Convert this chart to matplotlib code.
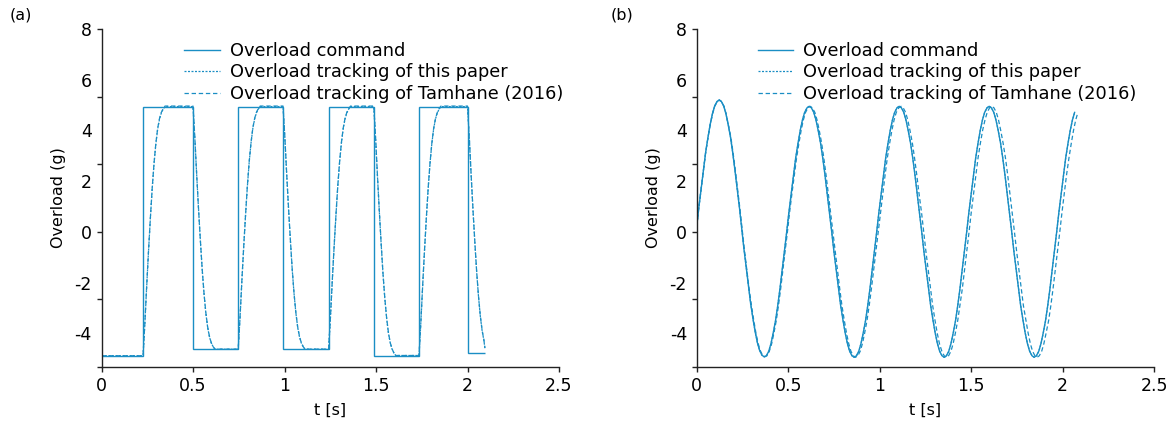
import matplotlib
matplotlib.use("Agg")
import matplotlib.pyplot as plt
from matplotlib.lines import Line2D

plt.rcParams['font.family'] = ['DejaVu Sans']
plt.rcParams['axes.unicode_minus'] = False

LINE_COLOR = '#1a8ec4'

# ---------------- Panel (a): square-wave command ----------------
a_cmd_edges = [0.0, 0.227, 0.5, 0.747, 0.992, 1.241, 1.488, 1.735, 2.0, 2.095]
a_cmd_levels = [-4.89, 4.94, -4.63, 4.94, -4.63, 4.94, -4.88, 4.94, -4.79]

a_trk_t = [0.0, 0.227,
           0.237, 0.247, 0.257, 0.267, 0.277, 0.287, 0.297, 0.307, 0.317, 0.327, 0.337, 0.347,
           0.5, 0.51, 0.52, 0.53, 0.54, 0.55, 0.56, 0.57, 0.58, 0.59, 0.60, 0.61, 0.62,
           0.747, 0.757, 0.767, 0.777, 0.787, 0.797, 0.807, 0.817, 0.827, 0.837, 0.847, 0.857, 0.867,
           0.992, 1.002, 1.012, 1.022, 1.032, 1.042, 1.052, 1.062, 1.072, 1.082, 1.092, 1.102, 1.112,
           1.241, 1.251, 1.261, 1.271, 1.281, 1.291, 1.301, 1.311, 1.321, 1.331, 1.341, 1.351, 1.361,
           1.488, 1.498, 1.508, 1.518, 1.528, 1.538, 1.548, 1.558, 1.568, 1.578, 1.588, 1.598, 1.608,
           1.735, 1.745, 1.755, 1.765, 1.775, 1.785, 1.795, 1.805, 1.815, 1.825, 1.835, 1.845, 1.855,
           2.0, 2.01, 2.02, 2.03, 2.04, 2.05, 2.06, 2.07, 2.08, 2.09, 2.095]

a_paper_y = [-4.89, -4.89,
             -3.61, -2.14, -0.76, 0.52, 1.70, 2.68, 3.47, 4.06, 4.45, 4.69, 4.84, 4.94,
             4.94, 3.70, 2.26, 0.92, -0.32, -1.47, -2.43, -3.20, -3.77, -4.15, -4.39, -4.53, -4.63,
             -4.63, -3.39, -1.95, -0.61, 0.63, 1.78, 2.74, 3.50, 4.08, 4.46, 4.70, 4.84, 4.94,
             4.94, 3.70, 2.26, 0.92, -0.32, -1.47, -2.43, -3.20, -3.77, -4.15, -4.39, -4.53, -4.63,
             -4.63, -3.39, -1.95, -0.61, 0.63, 1.78, 2.74, 3.50, 4.08, 4.46, 4.70, 4.84, 4.94,
             4.94, 3.66, 2.19, 0.82, -0.46, -1.64, -2.62, -3.41, -4.00, -4.39, -4.63, -4.78, -4.88,
             -4.88, -3.60, -2.13, -0.76, 0.52, 1.70, 2.68, 3.47, 4.06, 4.45, 4.69, 4.84, 4.94,
             4.94, 3.68, 2.22, 0.85, -0.41, -1.58, -2.55, -3.33, -3.91, -4.30, -4.60]

a_tam_y = [-4.89, -4.89,
           -3.59, -2.12, -0.74, 0.54, 1.72, 2.70, 3.49, 4.08, 4.47, 4.71, 4.86, 4.96,
           4.96, 3.72, 2.28, 0.94, -0.30, -1.45, -2.41, -3.18, -3.75, -4.13, -4.38, -4.53, -4.63,
           -4.63, -3.37, -1.93, -0.59, 0.65, 1.80, 2.76, 3.52, 4.10, 4.48, 4.72, 4.86, 4.96,
           4.96, 3.72, 2.28, 0.94, -0.30, -1.45, -2.41, -3.18, -3.75, -4.13, -4.38, -4.53, -4.63,
           -4.63, -3.37, -1.93, -0.59, 0.65, 1.80, 2.76, 3.52, 4.10, 4.48, 4.72, 4.86, 4.96,
           4.96, 3.68, 2.21, 0.84, -0.44, -1.62, -2.60, -3.39, -3.98, -4.38, -4.62, -4.78, -4.88,
           -4.88, -3.58, -2.11, -0.74, 0.54, 1.72, 2.70, 3.49, 4.08, 4.47, 4.71, 4.86, 4.96,
           4.96, 3.70, 2.24, 0.87, -0.39, -1.56, -2.53, -3.31, -3.89, -4.28, -4.58]

# ---------------- Panel (b): sinusoidal command ----------------
b_t = [0.000, 0.012, 0.025, 0.037, 0.049, 0.062, 0.074, 0.086, 0.098, 0.111,
       0.123, 0.135, 0.148, 0.160, 0.172, 0.185, 0.197, 0.209, 0.221, 0.234,
       0.246, 0.258, 0.271, 0.283, 0.295, 0.308, 0.320, 0.332, 0.344, 0.357,
       0.369, 0.381, 0.394, 0.406, 0.418, 0.431, 0.443, 0.455, 0.467, 0.480,
       0.492, 0.504, 0.517, 0.529, 0.541, 0.554, 0.566, 0.578, 0.590, 0.603,
       0.615, 0.627, 0.640, 0.652, 0.664, 0.677, 0.689, 0.701, 0.713, 0.726,
       0.738, 0.750, 0.763, 0.775, 0.787, 0.800, 0.812, 0.824, 0.836, 0.849,
       0.861, 0.873, 0.886, 0.898, 0.910, 0.923, 0.935, 0.947, 0.959, 0.972,
       0.984, 0.996, 1.009, 1.021, 1.033, 1.046, 1.058, 1.070, 1.082, 1.095,
       1.107, 1.119, 1.132, 1.144, 1.156, 1.169, 1.181, 1.193, 1.205, 1.218,
       1.230, 1.242, 1.255, 1.267, 1.279, 1.292, 1.304, 1.316, 1.328, 1.341,
       1.353, 1.365, 1.378, 1.390, 1.402, 1.415, 1.427, 1.439, 1.451, 1.464,
       1.476, 1.488, 1.501, 1.513, 1.525, 1.538, 1.550, 1.562, 1.574, 1.587,
       1.599, 1.611, 1.624, 1.636, 1.648, 1.661, 1.673, 1.685, 1.697, 1.710,
       1.722, 1.734, 1.747, 1.759, 1.771, 1.784, 1.796, 1.808, 1.820, 1.833,
       1.845, 1.857, 1.870, 1.882, 1.894, 1.907, 1.919, 1.931, 1.943, 1.956,
       1.968, 1.980, 1.993, 2.005, 2.017, 2.030, 2.042, 2.054, 2.066]

b_cmd_y = [0.20, 0.98, 1.75, 2.47, 3.14, 3.74, 4.25, 4.66, 4.96, 5.14,
           5.20, 5.14, 4.95, 4.65, 4.23, 3.72, 3.11, 2.43, 1.70, 0.93,
           0.14, -0.66, -1.43, -2.16, -2.84, -3.45, -3.96, -4.38, -4.68, -4.87,
           -4.93, -4.89, -4.71, -4.41, -4.00, -3.50, -2.91, -2.25, -1.53, -0.77,
           0.00, 0.77, 1.53, 2.25, 2.91, 3.50, 4.00, 4.41, 4.71, 4.89,
           4.95, 4.89, 4.71, 4.41, 4.00, 3.50, 2.91, 2.25, 1.53, 0.77,
           0.00, -0.77, -1.53, -2.25, -2.91, -3.50, -4.00, -4.41, -4.71, -4.89,
           -4.95, -4.89, -4.71, -4.41, -4.00, -3.50, -2.91, -2.25, -1.53, -0.77,
           0.00, 0.77, 1.53, 2.25, 2.91, 3.50, 4.00, 4.41, 4.71, 4.89,
           4.95, 4.89, 4.71, 4.41, 4.00, 3.50, 2.91, 2.25, 1.53, 0.77,
           0.00, -0.77, -1.53, -2.25, -2.91, -3.50, -4.00, -4.41, -4.71, -4.89,
           -4.95, -4.89, -4.71, -4.41, -4.00, -3.50, -2.91, -2.25, -1.53, -0.77,
           0.00, 0.77, 1.53, 2.25, 2.91, 3.50, 4.00, 4.41, 4.71, 4.89,
           4.95, 4.89, 4.71, 4.41, 4.00, 3.50, 2.91, 2.25, 1.53, 0.77,
           0.00, -0.77, -1.53, -2.25, -2.91, -3.50, -4.00, -4.41, -4.71, -4.89,
           -4.95, -4.89, -4.71, -4.41, -4.00, -3.50, -2.91, -2.25, -1.53, -0.77,
           0.00, 0.77, 1.53, 2.25, 2.91, 3.50, 4.00, 4.41, 4.71]

b_paper_y = [0.20, 0.97, 1.74, 2.46, 3.13, 3.73, 4.24, 4.65, 4.95, 5.13,
             5.19, 5.14, 4.96, 4.66, 4.25, 3.74, 3.13, 2.45, 1.72, 0.95,
             0.16, -0.64, -1.41, -2.14, -2.82, -3.43, -3.95, -4.37, -4.67, -4.87,
             -4.93, -4.90, -4.72, -4.42, -4.02, -3.52, -2.93, -2.27, -1.55, -0.79,
             -0.02, 0.75, 1.51, 2.23, 2.89, 3.48, 3.99, 4.40, 4.70, 4.89,
             4.95, 4.90, 4.72, 4.42, 4.02, 3.52, 2.93, 2.27, 1.55, 0.79,
             0.02, -0.75, -1.51, -2.23, -2.89, -3.48, -3.99, -4.40, -4.70, -4.89,
             -4.95, -4.90, -4.72, -4.42, -4.02, -3.52, -2.93, -2.27, -1.55, -0.79,
             -0.02, 0.75, 1.51, 2.23, 2.89, 3.48, 3.99, 4.40, 4.70, 4.89,
             4.95, 4.90, 4.72, 4.42, 4.02, 3.52, 2.93, 2.27, 1.55, 0.79,
             0.02, -0.75, -1.51, -2.23, -2.89, -3.48, -3.99, -4.40, -4.70, -4.89,
             -4.95, -4.90, -4.72, -4.42, -4.02, -3.52, -2.93, -2.27, -1.55, -0.79,
             -0.02, 0.75, 1.51, 2.23, 2.89, 3.48, 3.99, 4.40, 4.70, 4.89,
             4.95, 4.90, 4.72, 4.42, 4.02, 3.52, 2.93, 2.27, 1.55, 0.79,
             0.02, -0.75, -1.51, -2.23, -2.89, -3.48, -3.99, -4.40, -4.70, -4.89,
             -4.95, -4.90, -4.72, -4.42, -4.02, -3.52, -2.93, -2.27, -1.55, -0.79,
             -0.02, 0.75, 1.51, 2.23, 2.89, 3.48, 3.99, 4.40, 4.70]

b_tam_t = [0.000, 0.012, 0.025, 0.037, 0.049, 0.062, 0.075, 0.087, 0.099, 0.112,
           0.124, 0.136, 0.149, 0.161, 0.173, 0.187, 0.199, 0.211, 0.223, 0.236,
           0.248, 0.260, 0.273, 0.285, 0.298, 0.311, 0.323, 0.335, 0.347, 0.360,
           0.372, 0.384, 0.397, 0.410, 0.422, 0.435, 0.447, 0.459, 0.471, 0.484,
           0.496, 0.508, 0.521, 0.534, 0.546, 0.559, 0.571, 0.583, 0.595, 0.608,
           0.620, 0.632, 0.646, 0.658, 0.670, 0.683, 0.695, 0.707, 0.719, 0.732,
           0.744, 0.757, 0.770, 0.782, 0.794, 0.807, 0.819, 0.831, 0.843, 0.856,
           0.868, 0.881, 0.894, 0.906, 0.918, 0.931, 0.943, 0.955, 0.967, 0.980,
           0.993, 1.005, 1.018, 1.030, 1.042, 1.055, 1.067, 1.079, 1.091, 1.105,
           1.117, 1.129, 1.142, 1.154, 1.166, 1.179, 1.191, 1.203, 1.215, 1.229,
           1.241, 1.253, 1.266, 1.278, 1.290, 1.303, 1.315, 1.327, 1.340, 1.353,
           1.365, 1.377, 1.390, 1.402, 1.414, 1.427, 1.439, 1.452, 1.464, 1.477,
           1.489, 1.501, 1.514, 1.526, 1.538, 1.551, 1.563, 1.576, 1.588, 1.601,
           1.613, 1.625, 1.638, 1.650, 1.662, 1.675, 1.688, 1.700, 1.712, 1.725,
           1.737, 1.749, 1.762, 1.774, 1.786, 1.800, 1.812, 1.824, 1.836, 1.849,
           1.861, 1.873, 1.886, 1.898, 1.910, 1.924, 1.936, 1.948, 1.960, 1.973,
           1.985, 1.997, 2.010, 2.022, 2.035, 2.048, 2.060, 2.072, 2.084]

b_tam_y = [0.20, 0.98, 1.75, 2.47, 3.14, 3.74, 4.25, 4.66, 4.96, 5.14,
           5.20, 5.14, 4.95, 4.65, 4.23, 3.72, 3.11, 2.43, 1.70, 0.93,
           0.14, -0.66, -1.43, -2.16, -2.84, -3.45, -3.96, -4.38, -4.68, -4.87,
           -4.93, -4.89, -4.71, -4.41, -4.00, -3.50, -2.91, -2.25, -1.53, -0.77,
           0.00, 0.77, 1.53, 2.25, 2.91, 3.50, 4.00, 4.41, 4.71, 4.89,
           4.95, 4.89, 4.71, 4.41, 4.00, 3.50, 2.91, 2.25, 1.53, 0.77,
           0.00, -0.77, -1.53, -2.25, -2.91, -3.50, -4.00, -4.41, -4.71, -4.89,
           -4.95, -4.89, -4.71, -4.41, -4.00, -3.50, -2.91, -2.25, -1.53, -0.77,
           0.00, 0.77, 1.53, 2.25, 2.91, 3.50, 4.00, 4.41, 4.71, 4.89,
           4.95, 4.89, 4.71, 4.41, 4.00, 3.50, 2.91, 2.25, 1.53, 0.77,
           0.00, -0.77, -1.53, -2.25, -2.91, -3.50, -4.00, -4.41, -4.71, -4.89,
           -4.95, -4.89, -4.71, -4.41, -4.00, -3.50, -2.91, -2.25, -1.53, -0.77,
           0.00, 0.77, 1.53, 2.25, 2.91, 3.50, 4.00, 4.41, 4.71, 4.89,
           4.95, 4.89, 4.71, 4.41, 4.00, 3.50, 2.91, 2.25, 1.53, 0.77,
           0.00, -0.77, -1.53, -2.25, -2.91, -3.50, -4.00, -4.41, -4.71, -4.89,
           -4.95, -4.89, -4.71, -4.41, -4.00, -3.50, -2.91, -2.25, -1.53, -0.77,
           0.00, 0.77, 1.53, 2.25, 2.91, 3.50, 4.00, 4.41, 4.71]

series_labels = ['Overload command', 'Overload tracking of this paper',
                 'Overload tracking of Tamhane (2016)']
x_ticks = [0, 0.5, 1, 1.5, 2, 2.5]
x_ticklabels = ['0', '0.5', '1', '1.5', '2', '2.5']
y_labeled = [-4, -2, 0, 2, 4, 6, 8]
y_marks = [-16 / 3, -8 / 3, 0, 8 / 3, 16 / 3, 8]

DOT = (0, (1.6, 1.2))
DASH = (0, (3.5, 2.2))

W, H = 1171, 422
fig = plt.figure(figsize=(W / 100, H / 100), dpi=100)

def px_axes(left, top, right, bottom):
    return fig.add_axes([left / W, 1 - bottom / H, (right - left) / W, (bottom - top) / H])

ax_a = px_axes(101.5, 29, 559, 367)
ax_b = px_axes(696.7, 29, 1154, 367)

ax_a.stairs(a_cmd_levels, a_cmd_edges, baseline=None, color=LINE_COLOR, lw=1.0)
ax_a.plot(a_trk_t, a_paper_y, color=LINE_COLOR, lw=0.9, ls=DOT)
ax_a.plot(a_trk_t, a_tam_y, color=LINE_COLOR, lw=0.9, ls=DASH)

ax_b.plot(b_t, b_cmd_y, color=LINE_COLOR, lw=1.0)
ax_b.plot(b_t, b_paper_y, color=LINE_COLOR, lw=0.9, ls=DOT)
ax_b.plot(b_tam_t, b_tam_y, color=LINE_COLOR, lw=0.9, ls=DASH)

handles = [Line2D([], [], color=LINE_COLOR, lw=1.0),
           Line2D([], [], color=LINE_COLOR, lw=0.9, ls=DOT),
           Line2D([], [], color=LINE_COLOR, lw=0.9, ls=DASH)]

for ax, lx in ((ax_a, 0.181), (ax_b, 0.133)):
    ax.set_xlim(0, 2.5)
    ax.set_ylim(-16 / 3, 8)
    for s in ('top', 'right'):
        ax.spines[s].set_visible(False)
    for s in ('left', 'bottom'):
        ax.spines[s].set_linewidth(1.0)
        ax.spines[s].set_color('#222222')
    ax.set_xticks(x_ticks)
    ax.set_xticklabels(x_ticklabels)
    ax.tick_params(axis='x', direction='out', length=3.5, width=1.0, labelsize=12.5,
                   pad=4, color='#222222')
    ax.yaxis.remove_overlapping_locs = False
    ax.set_yticks(y_labeled)
    ax.set_yticklabels([str(v) for v in y_labeled])
    ax.set_yticks(y_marks, minor=True)
    ax.tick_params(axis='y', which='major', length=0, labelsize=12.5, pad=7)
    ax.tick_params(axis='y', which='minor', direction='out', length=3.5, width=1.0,
                   color='#222222')
    ax.set_xlabel('t [s]', fontsize=11.5, labelpad=5)
    ax.set_ylabel('Overload (g)', fontsize=11.5, labelpad=6)
    ax.legend(handles, series_labels, loc='upper left', bbox_to_anchor=(lx, 0.962),
              frameon=False, fontsize=12.8, handlelength=2.0, handletextpad=0.55,
              labelspacing=0.2, borderpad=0, borderaxespad=0)

fig.text(10 / W, 1 - 15 / H, '(a)', fontsize=11.5, ha='left', va='center')
fig.text(611 / W, 1 - 15 / H, '(b)', fontsize=11.5, ha='left', va='center')

fig.savefig('out.png', dpi=100)
